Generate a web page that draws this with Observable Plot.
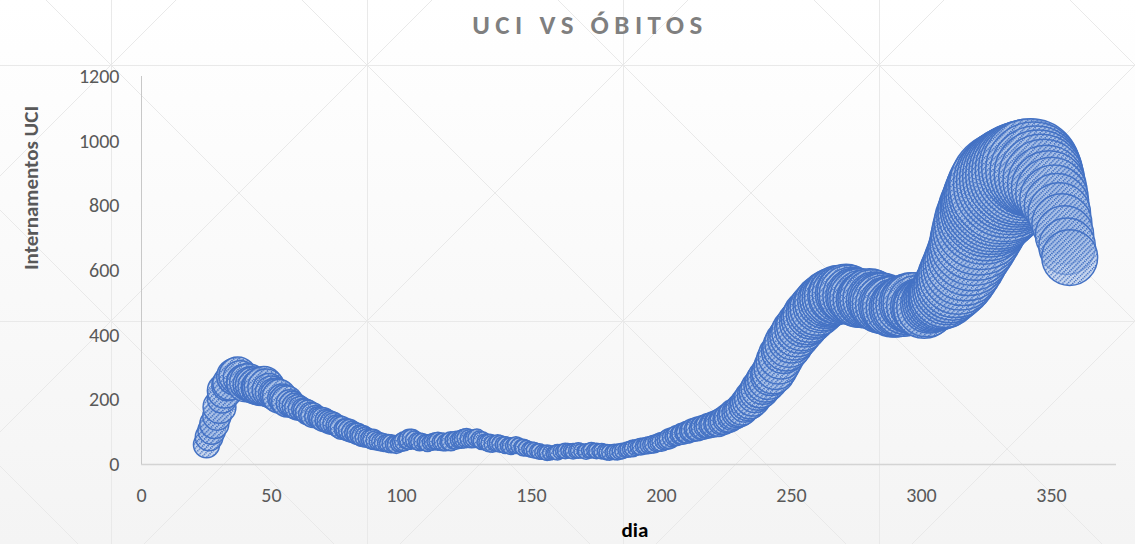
<!DOCTYPE html>
<html>
<head>
<meta charset="utf-8">
<script src="https://cdn.jsdelivr.net/npm/d3@7"></script>
<script src="https://cdn.jsdelivr.net/npm/@observablehq/plot@0.6"></script>
<style>
html, body { margin: 0; padding: 0; background: #fff; }
#chart {
  position: relative; width: 1135px; height: 544px; overflow: hidden;
  background-image:
    url("data:image/svg+xml,%3Csvg xmlns='http://www.w3.org/2000/svg' width='256' height='256'%3E%3Cpath d='M0.5 0V256M0 0.5H256M0 0L256 256M256 0L0 256' stroke='%23e9e9e9' stroke-width='1' fill='none'/%3E%3C/svg%3E"),
    linear-gradient(#ffffff, #f4f4f4);
  background-position: 111px 65px, 0 0;
  background-size: 256px 256px, 100% 100%;
  background-repeat: repeat, no-repeat;
  font-family: Carlito, Calibri, Lato, sans-serif;
}
#title {
  position: absolute; left: 290px; width: 600px; top: 9px; text-align: center;
  font-size: 27px; line-height: 32px; font-weight: bold; letter-spacing: 5.5px; color: #7f7f7f;
}
#ylab {
  position: absolute; left: 31px; top: 188px; transform: translate(-50%, -50%) rotate(-90deg);
  font-size: 21px; font-weight: bold; color: #595959; white-space: nowrap;
}
#xlab {
  position: absolute; left: 635px; top: 530px; transform: translate(-50%, -50%);
  font-size: 21px; font-weight: bold; color: #000; white-space: nowrap;
}
#plot { position: absolute; left: 0; top: 0; }
</style>
</head>
<body>
<div id="chart">
  <div id="plot"></div>
  <div id="title">UCI VS ÓBITOS</div>
  <div id="ylab">Internamentos UCI</div>
  <div id="xlab">dia</div>
</div>
<script>
// Day index (days since 2 March 2020)
const dia = [
 25,26,27,28,29,30,31,32,33,34,
 35,36,37,38,39,40,41,42,43,44,
 45,46,47,48,49,50,51,52,53,54,
 55,56,57,58,59,60,61,62,63,64,
 65,66,67,68,69,70,71,72,73,74,
 75,76,77,78,79,80,81,82,83,84,
 85,86,87,88,89,90,91,92,93,94,
 95,96,97,98,99,100,101,102,103,104,
 105,106,107,108,109,110,111,112,113,114,
 115,116,117,118,119,120,121,122,123,124,
 125,126,127,128,129,130,131,132,133,134,
 135,136,137,138,139,140,141,142,143,144,
 145,146,147,148,149,150,151,152,153,154,
 155,156,157,158,159,160,161,162,163,164,
 165,166,167,168,169,170,171,172,173,174,
 175,176,177,178,179,180,181,182,183,184,
 185,186,187,188,189,190,191,192,193,194,
 195,196,197,198,199,200,201,202,203,204,
 205,206,207,208,209,210,211,212,213,214,
 215,216,217,218,219,220,221,222,223,224,
 225,226,227,228,229,230,231,232,233,234,
 235,236,237,238,239,240,241,242,243,244,
 245,246,247,248,249,250,251,252,253,254,
 255,256,257,258,259,260,261,262,263,264,
 265,266,267,268,269,270,271,272,273,274,
 275,276,277,278,279,280,281,282,283,284,
 285,286,287,288,289,290,291,292,293,294,
 295,296,297,298,299,300,301,302,303,304,
 305,306,307,308,309,310,311,312,313,314,
 315,316,317,318,319,320,321,322,323,324,
 325,326,327,328,329,330,331,332,333,334,
 335,336,337,338,339,340,341,342,343,344,
 345,346,347,348,349,350,351,352,353,354,
 355,356,357
];
// Internamentos UCI
const uci = [
 61,85,105,125,150,178,205,228,245,252,
 262,272,275,268,258,252,255,248,246,242,
 238,240,243,238,230,224,219,215,211,205,
 200,195,190,186,181,177,174,170,166,161,
 156,152,149,146,142,139,136,132,129,126,
 121,117,113,110,108,105,101,98,95,91,
 88,85,82,80,78,75,72,70,68,66,
 65,64,63,62,65,68,72,75,78,80,
 76,72,70,70,68,66,68,70,72,72,
 70,70,68,70,72,74,75,76,78,80,
 82,80,78,80,82,78,74,70,68,66,
 64,65,66,64,62,60,58,57,58,60,
 58,55,52,50,48,46,44,42,40,38,
 37,36,36,35,37,38,40,41,42,43,
 42,41,42,43,42,41,40,42,44,43,
 42,42,41,40,38,37,38,39,38,40,
 42,44,46,48,50,52,54,55,57,58,
 60,61,63,66,68,70,73,76,80,84,
 87,90,92,95,98,100,103,106,108,110,
 112,115,117,120,122,124,126,128,132,136,
 140,145,150,156,160,165,172,180,188,195,
 205,215,225,235,245,255,265,275,285,300,
 318,335,350,362,375,387,398,410,420,430,
 440,450,460,468,476,484,492,500,506,512,
 516,520,522,525,527,528,530,525,522,520,
 517,515,512,510,512,514,512,508,505,500,
 498,495,492,490,488,485,485,488,490,495,
 498,500,498,492,488,486,484,488,495,500,
 505,510,515,522,530,540,550,560,572,585,
 600,615,632,650,668,688,708,728,748,765,
 780,793,805,817,828,840,850,860,868,876,
 883,889,895,900,905,910,915,918,912,905,
 898,890,880,868,855,840,820,800,775,745,
 710,675,640
];
// Óbitos (bubble size)
const obitos = [
 17,19,19,21,20,27,22,30,24,29,
 20,34,35,29,26,35,34,31,32,32,
 30,35,38,34,28,26,24,26,28,20,
 22,24,18,17,16,16,14,12,14,15,
 14,15,12,11,13,14,12,13,13,12,
 11,12,13,10,12,12,11,10,11,10,
 11,10,9,9,10,9,8,8,8,7,
 8,8,7,8,7,8,9,8,10,9,
 8,7,8,7,6,7,6,7,7,8,
 7,8,7,7,9,7,8,7,8,9,
 9,8,7,8,8,7,8,6,7,8,
 7,6,7,7,6,7,6,7,6,7,
 6,5,7,6,5,6,6,5,6,5,
 5,6,5,4,5,6,5,5,6,5,
 5,6,5,6,5,4,6,5,6,5,
 6,5,6,5,6,6,5,6,6,6,
 6,5,6,6,7,6,6,7,6,7,
 7,7,8,7,8,9,8,9,10,9,
 9,10,9,11,10,12,11,13,12,14,
 12,14,13,15,14,16,15,18,17,19,
 18,21,20,23,22,24,26,25,28,30,
 32,31,34,37,36,40,42,40,46,48,
 50,52,49,55,58,56,59,62,60,64,
 62,66,70,68,72,75,73,78,76,79,
 80,82,78,85,82,79,84,87,81,79,
 84,86,82,78,84,88,85,80,83,89,
 91,87,84,88,92,86,83,88,92,90,
 86,90,94,88,80,84,92,90,82,86,
 90,95,100,110,118,122,130,135,145,152,
 156,160,166,170,178,190,200,210,219,222,
 234,240,252,265,274,286,293,303,290,285,
 280,275,270,265,260,252,245,240,226,210,
 196,180,166,150,140,128,118,105,98,90,
 85,80,78
];
const xTicks = [0, 50, 100, 150, 200, 250, 300, 350];
const yTicks = [0, 200, 400, 600, 800, 1000, 1200];

const data = dia.map((d, i) => ({dia: d, uci: uci[i], obitos: obitos[i]}));

const svg = Plot.plot({
  width: 1135,
  height: 544,
  marginTop: 76,
  marginBottom: 80,
  marginLeft: 141,
  marginRight: 19,
  style: {background: "transparent", fontFamily: "Carlito, Calibri, Lato, sans-serif", fontSize: "20px", color: "#595959", overflow: "visible"},
  x: {domain: [0, 375], ticks: xTicks, tickFormat: d => String(d), tickSize: 0, tickPadding: 23, label: null},
  y: {domain: [0, 1200], ticks: yTicks, tickFormat: d => String(d), tickSize: 0, tickPadding: 22, label: null},
  r: {type: "sqrt", domain: [0, 303], range: [0, 55]},
  marks: [
    Plot.ruleY([0], {stroke: "#d4d4d4", strokeWidth: 1.5}),
    Plot.ruleX([0], {stroke: "#c8c8c8", strokeWidth: 1}),
    Plot.dot(data, {x: "dia", y: "uci", r: "obitos", fill: "#b4c7e7", stroke: "#4472c4", strokeWidth: 1.5, sort: null})
  ]
});

// hatch pattern for bubble fill (dotted upward diagonal)
const defs = d3.select(svg).insert("defs", ":first-child");
const pat = defs.append("pattern")
  .attr("id", "hatch")
  .attr("patternUnits", "userSpaceOnUse")
  .attr("width", 3.6).attr("height", 2.2)
  .attr("patternTransform", "rotate(45)");
pat.append("rect").attr("width", 3.6).attr("height", 2.2).attr("fill", "#a9bfe6").attr("fill-opacity", 0.6);
pat.append("rect").attr("x", 0).attr("y", 0).attr("width", 1.4).attr("height", 1.4).attr("fill", "#4472c4");
d3.select(svg).selectAll("circle").attr("fill", "url(#hatch)");

document.getElementById("plot").appendChild(svg);
</script>
</body>
</html>
